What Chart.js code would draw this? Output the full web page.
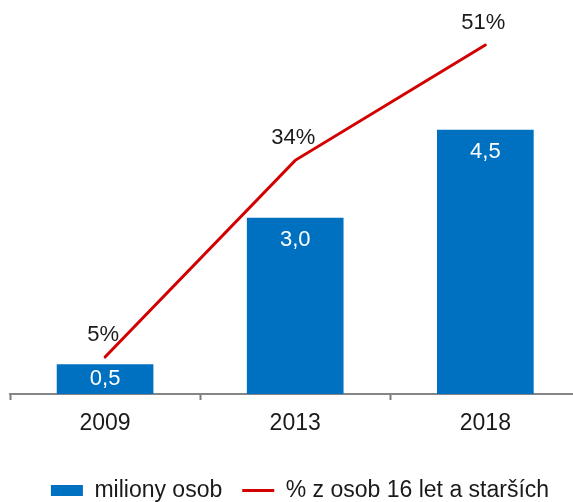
<!DOCTYPE html>
<html>
<head>
<meta charset="utf-8">
<title>Uživatelé</title>
<script src="https://cdn.jsdelivr.net/npm/chart.js@4.4.0/dist/chart.umd.min.js"></script>
<style>
  html, body { margin: 0; padding: 0; background: #fff; }
</style>
</head>
<body>
<canvas id="chart" width="573" height="502"></canvas>
<script>
  var years = ['2009', '2013', '2018'];
  var millions = [0.5, 3.0, 4.5];
  var percents = [5, 34, 51];
  var seriesNames = ['miliony osob', '% z osob 16 let a starších'];

  var BLUE = '#0070c0';
  var RED = '#d20000';
  var TEXT = '#1a1a1a';

  Chart.defaults.font.family = '"Liberation Sans", Arial, sans-serif';
  Chart.defaults.font.size = 22;
  Chart.defaults.color = TEXT;

  // values written on the bars (white) and above the line points
  var valueLabels = {
    id: 'valueLabels',
    afterDatasetsDraw: function(chart) {
      var ctx = chart.ctx;
      ctx.save();
      ctx.font = '22px "Liberation Sans", Arial, sans-serif';
      ctx.textAlign = 'center';
      ctx.textBaseline = 'middle';
      chart.getDatasetMeta(0).data.forEach(function(bar, i) {
        var y = Math.min(bar.y + 22, (bar.y + bar.base) / 2);
        ctx.fillStyle = '#fff';
        ctx.fillText(millions[i].toFixed(1).replace('.', ','), bar.x, y);
      });
      chart.getDatasetMeta(1).data.forEach(function(pt, i) {
        ctx.fillStyle = TEXT;
        ctx.fillText(percents[i] + '%', pt.x - 2, pt.y - 22);
      });
      ctx.restore();
    }
  };

  // legend sits a little right of the canvas centre
  var legendShift = {
    id: 'legendShift',
    afterLayout: function(chart) {
      chart.legend.left += 9;
      chart.legend.right += 9;
    }
  };

  new Chart(document.getElementById('chart'), {
    type: 'bar',
    data: {
      datasets: [
        {
          type: 'bar',
          label: seriesNames[0],
          data: millions.map(function(v, i) { return {x: i, y: v}; }),
          yAxisID: 'y',
          backgroundColor: BLUE,
          borderWidth: 0,
          barThickness: 96,
          pointStyle: 'rect',
          order: 2
        },
        {
          type: 'line',
          label: seriesNames[1],
          data: percents.map(function(v, i) { return {x: i, y: v}; }),
          yAxisID: 'yp',
          borderColor: RED,
          backgroundColor: RED,
          borderWidth: 3,
          borderCapStyle: 'round',
          pointRadius: 0,
          pointStyle: 'line',
          tension: 0,
          order: 1
        }
      ]
    },
    options: {
      responsive: false,
      animation: false,
      devicePixelRatio: 1,
      layout: { padding: { top: 0, left: 9, right: 0, bottom: -10 } },
      plugins: {
        legend: {
          position: 'bottom',
          labels: {
            usePointStyle: true,
            pointStyleWidth: 32,
            boxWidth: 32,
            boxHeight: 11,
            padding: 20,
            color: TEXT,
            font: { size: 23 },
            sort: function(a, b) { return a.datasetIndex - b.datasetIndex; }
          }
        },
        tooltip: { enabled: false }
      },
      scales: {
        // one slot per year; tick marks at the slot edges, year in the middle
        x: {
          type: 'linear',
          position: 'bottom',
          offset: false,
          bounds: 'data',
          min: -0.5,
          max: 2.461,
          afterBuildTicks: function(scale) {
            scale.ticks = [-0.5, 0, 0.5, 1, 1.5, 2].map(function(v) { return {value: v}; });
          },
          afterFit: function(scale) { scale.height = 65; },
          ticks: {
            autoSkip: false,
            maxRotation: 0,
            padding: 10,
            color: TEXT,
            font: { size: 23 },
            callback: function(v) {
              return Number.isInteger(v) ? years[v] : '';
            }
          },
          grid: {
            offset: false,
            drawOnChartArea: false,
            drawTicks: true,
            tickLength: 6,
            tickWidth: 2,
            tickColor: function(c) {
              return (c.tick && !Number.isInteger(c.tick.value)) ? '#7a7a7a' : 'rgba(0,0,0,0)';
            }
          },
          border: { display: true, color: '#858585', width: 2 }
        },
        y: { display: false, min: 0, max: 6.72 },
        yp: { display: false, position: 'right', min: -0.45, max: 57.64 }
      }
    },
    plugins: [valueLabels, legendShift]
  });
</script>
</body>
</html>
